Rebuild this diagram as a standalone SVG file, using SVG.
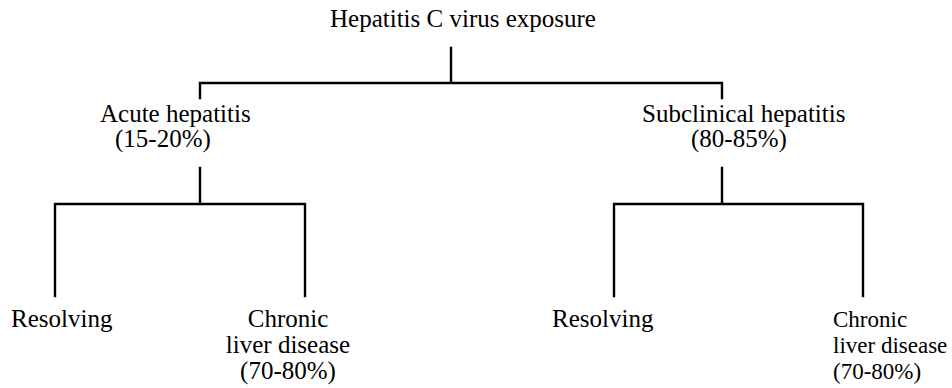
<svg xmlns="http://www.w3.org/2000/svg" width="952" height="388" viewBox="0 0 952 388">
<style>
text{font-family:"Liberation Serif","Times New Roman",serif;font-size:25px;fill:#000}
#chronic-right text{font-size:23px}
.c{stroke:#000;stroke-width:2.4;fill:none;stroke-linecap:square}
</style>
<rect width="952" height="388" fill="#fff"/>
<g id="connectors">
<path class="c" d="M451 48V83M200 98V83H722V98"/>
<path class="c" d="M200 168V204M55 296V204H305V296"/>
<path class="c" d="M722 168V204M614 296V204H863V296"/>
</g>
<g id="exposure"><text x="330" y="27">Hepatitis C virus exposure</text></g>
<g id="acute"><text x="100" y="122">Acute hepatitis</text><text x="115" y="147">(15-20%)</text></g>
<g id="subclinical"><text x="642" y="122">Subclinical hepatitis</text><text x="691" y="147">(80-85%)</text></g>
<g id="resolving-left"><text x="11" y="327">Resolving</text></g>
<g id="chronic-left"><text x="288" y="327" text-anchor="middle">Chronic</text><text x="288" y="353" text-anchor="middle">liver disease</text><text x="288" y="379" text-anchor="middle">(70-80%)</text></g>
<g id="resolving-right"><text x="552" y="327">Resolving</text></g>
<g id="chronic-right"><text x="833" y="327">Chronic</text><text x="833" y="353">liver disease</text><text x="833" y="379">(70-80%)</text></g>
</svg>
